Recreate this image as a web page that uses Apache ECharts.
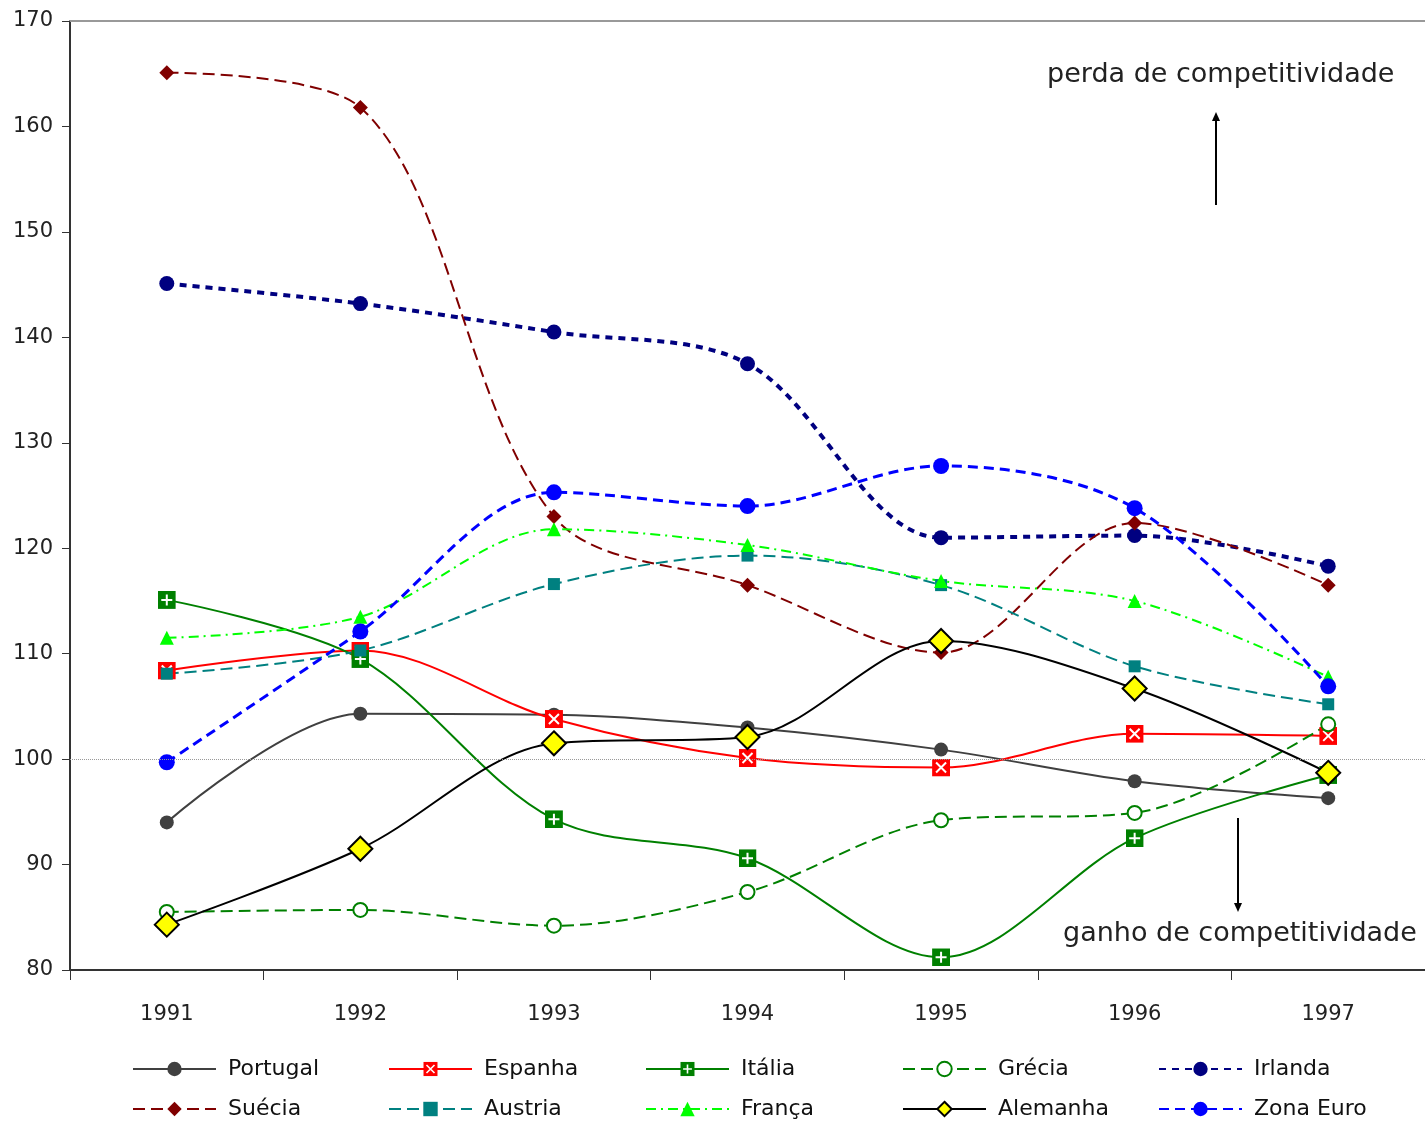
<!DOCTYPE html>
<html>
<head>
<meta charset="utf-8">
<script src="https://cdn.jsdelivr.net/npm/echarts@6/dist/echarts.min.js"></script>
<style>html,body{margin:0;padding:0;background:#fff}#c{width:1425px;height:1121px}</style>
</head>
<body>
<div id="c"></div>
<script>
const years = ['1991','1992','1993','1994','1995','1996','1997'];
const portugal = [94.0, 104.3, 104.2, 103.0, 100.9, 97.9, 96.3];
const espanha  = [108.4, 110.3, 103.8, 100.1, 99.2, 102.4, 102.2];
const italia   = [115.1, 109.5, 94.3, 90.6, 81.2, 92.5, 98.5];
const grecia   = [85.5, 85.7, 84.2, 87.4, 94.2, 94.9, 103.3];
const irlanda  = [145.1, 143.2, 140.5, 137.5, 121.0, 121.2, 118.3];
const suecia   = [165.1, 161.8, 123.0, 116.5, 110.1, 122.4, 116.5];
const austria  = [108.1, 110.3, 116.6, 119.3, 116.5, 108.8, 105.2];
const franca   = [111.5, 113.5, 121.8, 120.3, 116.9, 115.0, 107.8];
const alemanha = [84.3, 91.5, 101.5, 102.1, 111.2, 106.7, 98.7];
const zonaEuro = [99.7, 112.1, 125.3, 124.0, 127.8, 123.8, 106.9];
const yTicks = [80, 90, 100, 110, 120, 130, 140, 150, 160, 170];

function svgImg(s){ return 'image://data:image/svg+xml;charset=utf-8,' + encodeURIComponent(s); }
const xMark = svgImg("<svg xmlns='http://www.w3.org/2000/svg' width='36' height='36'><rect width='36' height='36' fill='#ff0000'/><path d='M8 8L28 28M28 8L8 28' stroke='#ffffff' stroke-width='4'/></svg>");
const plusMark = svgImg("<svg xmlns='http://www.w3.org/2000/svg' width='36' height='36'><rect width='36' height='36' fill='#008000'/><path d='M18 7L18 29M7 18L29 18' stroke='#ffffff' stroke-width='4'/></svg>");

const SM = 0.33;
function mk(name, data, color, lw, type, symbol, ssize, extra) {
  return Object.assign({
    name, type: 'line', data, smooth: SM,
    symbol, symbolSize: ssize, showAllSymbol: true,
    lineStyle: { color, width: lw, type },
    itemStyle: { color },
    emphasis: { disabled: true }
  }, extra || {});
}

const series = [
  mk('Portugal', portugal, '#404040', 2, 'solid', 'circle', 14),
  mk('Espanha', espanha, '#ff0000', 2, 'solid', xMark, 18),
  mk('Itália', italia, '#008000', 2, 'solid', plusMark, 18),
  mk('Grécia', grecia, '#008000', 2, [12, 6], 'emptyCircle', 14, { itemStyle: { color: '#008000', borderColor: '#008000', borderWidth: 2 } }),
  mk('Irlanda', irlanda, '#000080', 4, [7, 6], 'circle', 15),
  mk('Suécia', suecia, '#800000', 2, [12, 6], 'diamond', 15),
  mk('Austria', austria, '#008080', 2, [12, 6], 'rect', 12),
  mk('França', franca, '#00ff00', 2, [10, 5, 2, 5], 'triangle', 14),
  mk('Alemanha', alemanha, '#000000', 2, 'solid', 'diamond', 24, { itemStyle: { color: '#ffff00', borderColor: '#000000', borderWidth: 2 } }),
  mk('Zona Euro', zonaEuro, '#0000ff', 3, [10, 6], 'circle', 16, {
    markLine: { silent: true, symbol: 'none', label: { show: false },
      lineStyle: { color: '#999', type: 'dotted', width: 1 },
      data: [{ yAxis: 100 }] }
  })
];

const font = 'DejaVu Sans';
const cols = [['Portugal','Suécia'],['Espanha','Austria'],['Itália','França'],['Grécia','Alemanha'],['Irlanda','Zona Euro']];
const colLeft = [132, 388, 645, 902, 1158];
const legends = cols.map((d, i) => ({
  data: d, orient: 'vertical', left: colLeft[i], top: 1054, height: 80, width: 260,
  itemWidth: 83, itemHeight: 18, itemGap: 10, selectedMode: false, padding: 0,
  textStyle: { fontSize: 22, color: '#111', fontFamily: font, padding: [0, 0, 0, 7], lineHeight: 30 }
}));

const option = {
  animation: false,
  backgroundColor: '#fff',
  grid: { left: 70, right: 0, top: 21, bottom: 151 },
  legend: legends,
  xAxis: [{
    type: 'category', data: years, boundaryGap: true,
    axisLine: { lineStyle: { color: '#333', width: 2 } },
    axisTick: { show: true, length: 10, lineStyle: { color: '#333', width: 1 } },
    axisLabel: { fontSize: 21, color: '#222', margin: 34, fontFamily: font },
    splitLine: { show: false }
  }, {
    type: 'category', data: years, position: 'top',
    axisLine: { show: true, lineStyle: { color: '#999', width: 2 } },
    axisTick: { show: false }, axisLabel: { show: false }, splitLine: { show: false }
  }],
  yAxis: {
    type: 'value', min: yTicks[0], max: yTicks[yTicks.length - 1], interval: 10,
    axisLine: { show: true, lineStyle: { color: '#333', width: 2 } },
    axisTick: { show: true, length: 8, lineStyle: { color: '#333' } },
    axisLabel: { fontSize: 21, color: '#222', margin: 17, fontFamily: font },
    splitLine: { show: false }
  },
  series,
  graphic: [
    { type: 'text', left: 1047, top: 61, style: { text: 'perda de competitividade', fontSize: 27, fill: '#222', fontFamily: font } },
    { type: 'text', left: 1063, top: 920, style: { text: 'ganho de competitividade', fontSize: 27, fill: '#222', fontFamily: font } },
    { type: 'line', shape: { x1: 1216, y1: 205, x2: 1216, y2: 120 }, style: { stroke: '#000', lineWidth: 2 } },
    { type: 'polygon', shape: { points: [[1216, 112], [1212, 121], [1220, 121]] }, style: { fill: '#000' } },
    { type: 'line', shape: { x1: 1238, y1: 818, x2: 1238, y2: 904 }, style: { stroke: '#000', lineWidth: 2 } },
    { type: 'polygon', shape: { points: [[1238, 912], [1234, 903], [1242, 903]] }, style: { fill: '#000' } }
  ]
};
const chart = echarts.init(document.getElementById('c'), null, { renderer: 'canvas' });
chart.setOption(option);
</script>
</body>
</html>
